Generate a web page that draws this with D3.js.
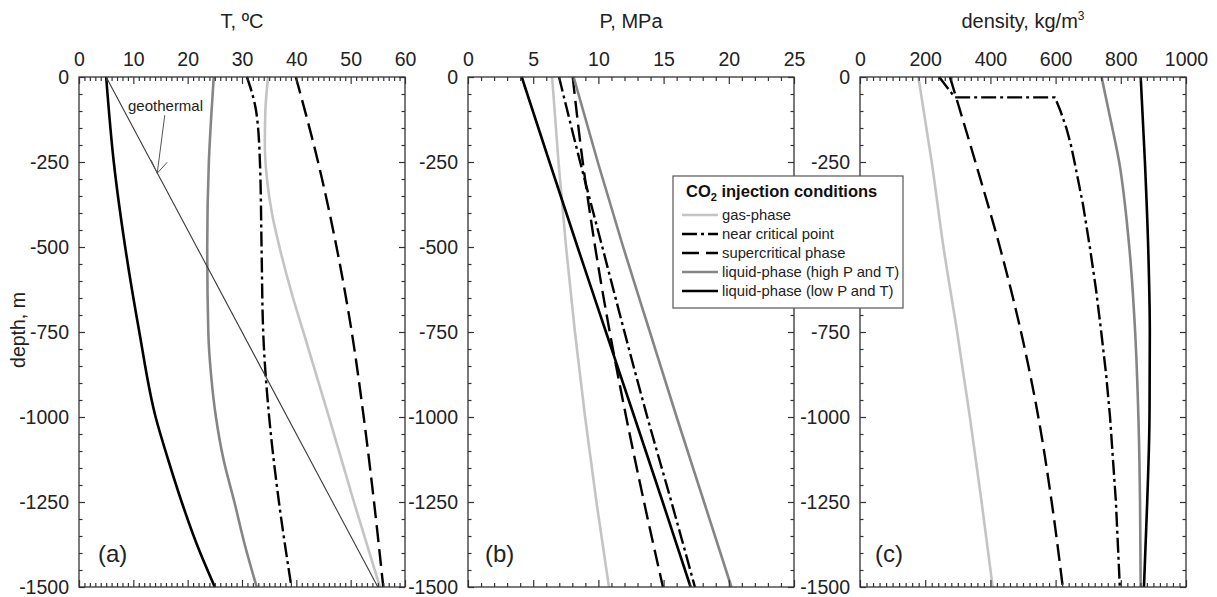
<!DOCTYPE html>
<html><head><meta charset="utf-8">
<script src="https://cdn.jsdelivr.net/npm/d3@7/dist/d3.min.js"></script>
<style>
body{margin:0;background:#fff}
svg{display:block;font-family:Arial,"Liberation Sans",sans-serif}
</style>
</head><body>
<svg id="chart" width="1217" height="597"></svg>
<script>
// ---------------- DATA ----------------
const seriesNames = ["gas-phase","near critical point","supercritical phase","liquid-phase (high P and T)","liquid-phase (low P and T)"];
const depthTicks = [0,-250,-500,-750,-1000,-1250,-1500];
const tTicks = [0,10,20,30,40,50,60];
const pTicks = [0,5,10,15,20,25];
const rhoTicks = [0,200,400,600,800,1000];

const stdDepth = [0,-250,-500,-750,-1000,-1250,-1500];

// (a) temperature, ºC
const T_gasDepth = [0,-100,-200,-300,-400,-500,-650,-750,-1000,-1250,-1500];
const T_gas = [34.8,34.3,34.2,34.6,35.5,36.9,39.4,41.3,46.0,50.6,55.4];
const T_nearDepth = [0,-50,-100,-250,-500,-750,-1000,-1250,-1500];
const T_near = [30.9,31.9,32.6,33.3,33.6,33.9,35.0,36.8,39.1];
const T_super = [39.9,44.0,47.4,50.2,52.4,54.3,56.0];
const T_liqHighDepth = [0,-100,-250,-500,-750,-875,-1000,-1125,-1250,-1375,-1500];
const T_liqHigh = [24.8,24.4,23.9,23.6,23.8,24.3,25.2,26.6,28.6,30.5,32.7];
const T_liqLowDepth = [0,-250,-500,-750,-1000,-1125,-1250,-1375,-1500];
const T_liqLow = [5.0,6.4,8.5,11.1,14.1,16.4,18.9,21.7,25.0];
const geoDepth = [0,-1500];
const T_geo = [5,55];
const geoArrowTip = {T:14.4, depth:-283};

// (b) pressure, MPa
const P_gas = [6.45,6.94,7.52,8.20,8.98,9.85,10.81];
const P_near = [6.98,8.60,10.30,12.00,13.75,15.60,17.40];
const P_super = [8.03,8.80,9.75,10.87,12.13,13.50,14.95];
const P_liqHigh = [8.10,9.95,11.90,13.95,16.00,18.10,20.20];
const P_liqLow = [4.12,6.25,8.40,10.58,12.76,14.93,17.07];

// (c) density, kg/m3
const R_gas = [179,220,256,298,337,373,407];
const R_nearDepth = [0,-60,-60,-100,-150,-200,-250,-375,-500,-625,-750,-875,-1000,-1250,-1500];
const R_near = [243,291,598,615,633,647,658,684,705,724,740,755,767,785,797];
const R_super = [276,354,429,494,547,588,622];
const R_liqHighDepth = [0,-100,-250,-500,-750,-1000,-1250,-1500];
const R_liqHigh = [741,763,795,826,844,854,859,861];
const R_liqLow = [861,874,884,889,888,881,871];

// ---------------- STYLE ----------------
const styles = [
  {color:"#c4c4c4", width:2.6, dash:null},
  {color:"#000", width:2.4, dash:"15,4,3,4"},
  {color:"#000", width:2.4, dash:"17,7"},
  {color:"#858585", width:2.6, dash:null},
  {color:"#000", width:2.6, dash:null}
];

const svg = d3.select("#chart");
const TOP = 77, BOT = 587, W = 326;
const lefts = [79, 468, 860];
const y = d3.scaleLinear().domain([0,-1500]).range([TOP,BOT]);
const FONT = 19.5;
const AX = "#333";
const fmt = d => String(d);
const legendBox = {x:673, y:176, w:230, h:132};

const panels = [
  {title:"T, ºC", domain:[0,60], ticks:tTicks, minor:1, label:"(a)", labelDx:19,
   series:[[T_gasDepth,T_gas],[T_nearDepth,T_near],[stdDepth,T_super],[T_liqHighDepth,T_liqHigh],[T_liqLowDepth,T_liqLow]]},
  {title:"P, MPa", domain:[0,25], ticks:pTicks, minor:1, label:"(b)", labelDx:17,
   series:[[stdDepth,P_gas],[stdDepth,P_near],[stdDepth,P_super],[stdDepth,P_liqHigh],[stdDepth,P_liqLow]]},
  {title:"density, kg/m", sup:"3", domain:[0,1000], ticks:rhoTicks, minor:20, label:"(c)", labelDx:15,
   series:[[stdDepth,R_gas],[R_nearDepth,R_near],[stdDepth,R_super],[R_liqHighDepth,R_liqHigh],[stdDepth,R_liqLow]]}
];

panels.forEach((p, i) => {
  const L = lefts[i];
  const x = d3.scaleLinear().domain(p.domain).range([L, L+W]);
  const g = svg.append("g");
  const minors = d3.range(p.domain[0], p.domain[1] + p.minor/2, p.minor).filter(v => !p.ticks.includes(v));
  const yMinors = d3.range(0, -1500 - 1, -50).filter(v => !depthTicks.includes(v));

  // series lines
  p.series.forEach((s, k) => {
    const [dd, vv] = s;
    const pts = dd.map((d, j) => [vv[j], d]);
    const hasDup = dd.some((d, j) => j > 0 && d === dd[j-1]);
    const line = d3.line().x(q => x(q[0])).y(q => y(q[1]))
      .curve(hasDup ? d3.curveLinear : d3.curveMonotoneY);
    const st = styles[k];
    g.append("path").attr("d", line(pts)).attr("fill","none")
      .attr("stroke", st.color).attr("stroke-width", st.width)
      .attr("stroke-dasharray", st.dash).attr("stroke-linejoin","round");
  });

  // geothermal in panel a
  if (i === 0) {
    const gl = d3.line().x(q => x(q[0])).y(q => y(q[1]));
    g.append("path").attr("d", gl(geoDepth.map((d,j)=>[T_geo[j], d])))
      .attr("fill","none").attr("stroke","#3a3a3a").attr("stroke-width",1.1);
    const tx = x(geoArrowTip.T), ty = y(geoArrowTip.depth);
    g.append("line").attr("x1", tx+7.5).attr("y1", ty-58).attr("x2", tx).attr("y2", ty)
      .attr("stroke","#555").attr("stroke-width",1);
    g.append("path").attr("d", `M${tx-6},${ty-13} L${tx},${ty} L${tx+10},${ty-11}`)
      .attr("fill","none").attr("stroke","#555").attr("stroke-width",1);
    g.append("text").attr("x", 128).attr("y", 111).attr("font-size",15).attr("fill","#222").text("geothermal");
  }

  // frame
  g.append("rect").attr("x", L).attr("y", TOP).attr("width", W).attr("height", BOT-TOP)
    .attr("fill","none").attr("stroke", AX).attr("stroke-width",1.3);

  const styleAxis = sel => {
    sel.select(".domain").remove();
    sel.selectAll("line").attr("stroke", AX).attr("stroke-width",1.2);
    sel.selectAll("text").attr("font-size", FONT).attr("fill","#222").attr("font-family",'Arial,"Liberation Sans",sans-serif');
  };

  // y tick labels hidden behind the legend are not drawn
  const yLabelTicks = depthTicks.filter(v => {
    const yy = y(v);
    const covered = L - 10 > legendBox.x && L - 10 < legendBox.x + legendBox.w + 50 &&
      yy > legendBox.y && yy < legendBox.y + legendBox.h && L > legendBox.x + legendBox.w - 60;
    return !covered;
  });

  // top axis
  g.append("g").attr("transform",`translate(0,${TOP})`)
    .call(d3.axisTop(x).tickValues(p.ticks).tickSize(-7).tickPadding(11).tickFormat(fmt)).call(styleAxis);
  g.append("g").attr("transform",`translate(0,${TOP})`)
    .call(d3.axisTop(x).tickValues(minors).tickSize(-4).tickFormat("")).call(styleAxis);
  // bottom axis
  g.append("g").attr("transform",`translate(0,${BOT})`)
    .call(d3.axisBottom(x).tickValues(p.ticks).tickSize(-7).tickFormat("")).call(styleAxis);
  g.append("g").attr("transform",`translate(0,${BOT})`)
    .call(d3.axisBottom(x).tickValues(minors).tickSize(-4).tickFormat("")).call(styleAxis);
  // left axis
  g.append("g").attr("transform",`translate(${L},0)`)
    .call(d3.axisLeft(y).tickValues(depthTicks).tickSize(-6).tickFormat("")).call(styleAxis);
  g.append("g").attr("transform",`translate(${L},0)`)
    .call(d3.axisLeft(y).tickValues(yLabelTicks).tickSize(0).tickPadding(10).tickFormat(fmt)).call(styleAxis);
  g.append("g").attr("transform",`translate(${L},0)`)
    .call(d3.axisLeft(y).tickValues(yMinors).tickSize(-3.5).tickFormat("")).call(styleAxis);
  // right axis
  g.append("g").attr("transform",`translate(${L+W},0)`)
    .call(d3.axisRight(y).tickValues(depthTicks).tickSize(-6).tickFormat("")).call(styleAxis);
  g.append("g").attr("transform",`translate(${L+W},0)`)
    .call(d3.axisRight(y).tickValues(yMinors).tickSize(-3.5).tickFormat("")).call(styleAxis);

  // title
  const t = g.append("text").attr("x", L + W/2).attr("y", 28).attr("text-anchor","middle")
    .attr("font-size", 20).attr("fill","#222").text(p.title);
  if (p.sup) t.append("tspan").attr("dy",-8).attr("font-size",12).text(p.sup);

  // panel label
  g.append("text").attr("x", L + p.labelDx).attr("y", 562).attr("font-size",24).attr("fill","#222").text(p.label);
});

// y-axis label
svg.append("text").attr("transform","translate(25,330) rotate(-90)").attr("text-anchor","middle")
  .attr("font-size", FONT).attr("fill","#222").text("depth, m");

// legend
const lg = svg.append("g");
lg.append("rect").attr("x",legendBox.x).attr("y",legendBox.y).attr("width",legendBox.w).attr("height",legendBox.h)
  .attr("fill","#fff").attr("stroke","#555").attr("stroke-width",1.2);
const lt = lg.append("text").attr("x",686).attr("y",197).attr("font-size",16.5).attr("font-weight","bold").attr("fill","#111").text("CO");
lt.append("tspan").attr("dy",4).attr("font-size",11).text("2");
lt.append("tspan").attr("dy",-4).text(" injection conditions");
seriesNames.forEach((nm, k) => {
  const yy = 220 + k*19;
  const st = styles[k];
  lg.append("line").attr("x1",682).attr("x2",718).attr("y1",yy-5).attr("y2",yy-5)
    .attr("stroke",st.color).attr("stroke-width",st.width).attr("stroke-dasharray",st.dash);
  lg.append("text").attr("x",722).attr("y",yy).attr("font-size",14.8).attr("fill","#222").text(nm);
});
</script>
</body></html>
